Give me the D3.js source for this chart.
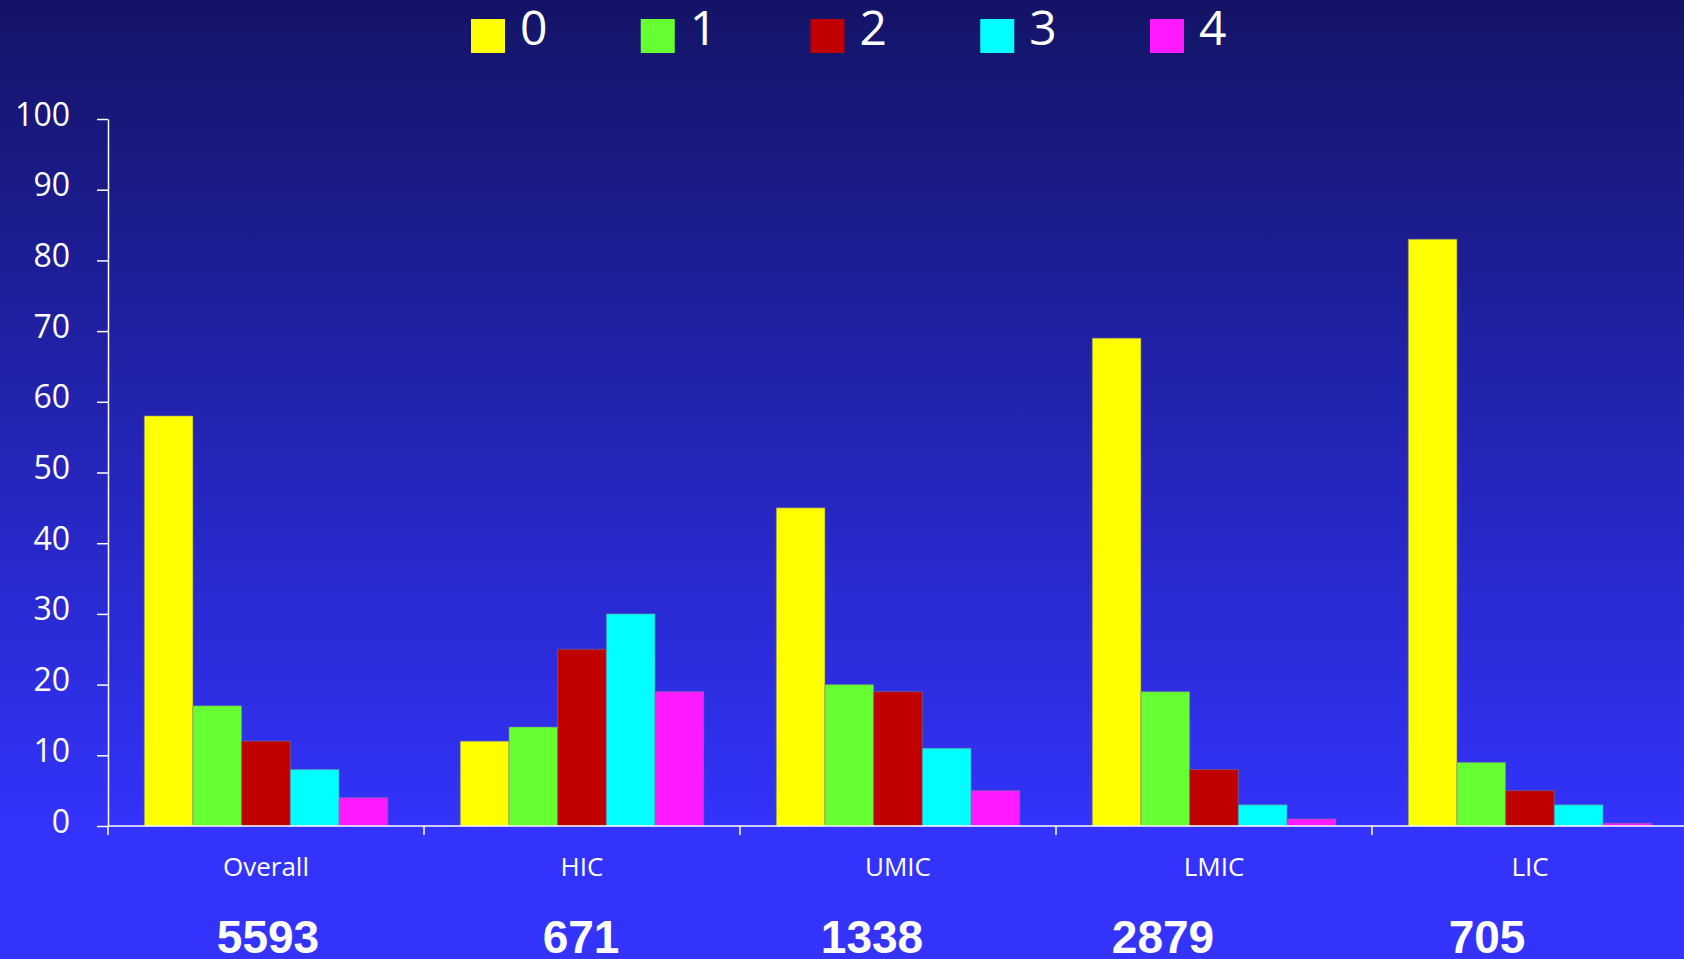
<!DOCTYPE html>
<html>
<head>
<meta charset="utf-8">
<script src="https://cdn.jsdelivr.net/npm/d3@7"></script>
<style>
  html, body { margin: 0; padding: 0; background: #3333ff; }
  svg { display: block; }
</style>
</head>
<body>
<svg id="chart" width="1684" height="959"></svg>
<script>
// Income groups and the number of respondents in each
const categories = ["Overall", "HIC", "UMIC", "LMIC", "LIC"];
const groupCounts = ["5593", "671", "1338", "2879", "705"];

// Score levels shown in the legend
const series = ["0", "1", "2", "3", "4"];
const seriesColors = ["#ffff00", "#66ff33", "#c00000", "#00ffff", "#ff1aff"];

// Percentage of each group at each score level
const values0 = [58, 12, 45, 69, 83];
const values1 = [17, 14, 20, 19, 9];
const values2 = [12, 25, 19, 8, 5];
const values3 = [8, 30, 11, 3, 3];
const values4 = [4, 19, 5, 1, 0.4];
const seriesValues = [values0, values1, values2, values3, values4];

const yTicks = [0, 10, 20, 30, 40, 50, 60, 70, 80, 90, 100];

const W = 1684, H = 959;
const svg = d3.select("#chart");

// Background gradient: deep navy at the top to bright blue at the axis
const defs = svg.append("defs");
const grad = defs.append("linearGradient")
  .attr("id", "bg")
  .attr("gradientUnits", "userSpaceOnUse")
  .attr("x1", 0).attr("y1", 0).attr("x2", 0).attr("y2", 830);
grad.append("stop").attr("offset", 0).attr("stop-color", "#131466");
grad.append("stop").attr("offset", 1).attr("stop-color", "#3333fc");
svg.append("rect").attr("width", W).attr("height", H).attr("fill", "url(#bg)");

// Scales
const x0 = d3.scaleBand().domain(categories).range([108, 1688]).paddingInner(0).paddingOuter(0);
const x1 = d3.scaleBand().domain(series).range([0, x0.bandwidth()]).paddingInner(0).paddingOuter(0.745);
const y = d3.scaleLinear().domain([0, 100]).range([826, 119]);
const color = d3.scaleOrdinal().domain(series).range(seriesColors);

// Bars
const barData = [];
categories.forEach((c, ci) => {
  series.forEach((s, si) => {
    barData.push({ cat: c, ser: s, value: seriesValues[si][ci] });
  });
});
svg.append("g").selectAll("rect")
  .data(barData)
  .join("rect")
  .attr("x", d => x0(d.cat) + x1(d.ser))
  .attr("y", d => y(d.value))
  .attr("width", x1.bandwidth())
  .attr("height", d => y(0) - y(d.value))
  .attr("fill", d => color(d.ser))
  .attr("stroke", "rgba(120,120,140,0.55)")
  .attr("stroke-width", 1);

// Y axis
const yAxis = d3.axisLeft(y).tickValues(yTicks).tickSize(11).tickSizeOuter(0).tickPadding(27);
const gy = svg.append("g").attr("transform", "translate(108,0)").call(yAxis);
gy.select(".domain").attr("stroke", "#fff").attr("stroke-width", 1.5);
gy.selectAll(".tick line").attr("stroke", "#fff").attr("stroke-width", 1.5);
gy.selectAll(".tick text")
  .attr("fill", "#fff")
  .attr("font-family", "'Open Sans', sans-serif")
  .attr("font-size", 32)
  .attr("dy", "0.19em");

// X axis baseline and tick marks at the group boundaries
svg.append("line")
  .attr("x1", 108).attr("x2", W)
  .attr("y1", y(0)).attr("y2", y(0))
  .attr("stroke", "#fff").attr("stroke-width", 1.5);
svg.append("g").selectAll("line")
  .data(categories)
  .join("line")
  .attr("x1", d => x0(d)).attr("x2", d => x0(d))
  .attr("y1", y(0)).attr("y2", y(0) + 9)
  .attr("stroke", "#fff").attr("stroke-width", 1.5);

// Category names
svg.append("g").selectAll("text")
  .data(categories)
  .join("text")
  .attr("x", d => x0(d) + x0.bandwidth() / 2)
  .attr("y", 876)
  .attr("text-anchor", "middle")
  .attr("fill", "#fff")
  .attr("font-family", "'Open Sans', sans-serif")
  .attr("font-size", 26)
  .text(d => d);

// Group sizes, set as separate captions a little left of the band centres
const countShift = [2, -1, -26, -51, -43];
svg.append("g").selectAll("text")
  .data(categories)
  .join("text")
  .attr("x", (d, i) => x0(d) + x0.bandwidth() / 2 + countShift[i])
  .attr("y", 953)
  .attr("text-anchor", "middle")
  .attr("fill", "#fff")
  .attr("font-family", "'Liberation Sans', Arial, sans-serif")
  .attr("font-weight", "bold")
  .attr("font-size", 46)
  .text((d, i) => groupCounts[i]);

// Legend
const legendX = d3.scalePoint().domain(series).range([471, 1150]);
const legend = svg.append("g").selectAll("g")
  .data(series)
  .join("g")
  .attr("transform", d => `translate(${legendX(d)},19)`);
legend.append("rect")
  .attr("width", 34).attr("height", 34)
  .attr("fill", d => color(d));
legend.append("text")
  .attr("x", 49)
  .attr("y", 26)
  .attr("fill", "#fff")
  .attr("font-family", "'Open Sans', sans-serif")
  .attr("font-size", 48)
  .text(d => d);
</script>
</body>
</html>
